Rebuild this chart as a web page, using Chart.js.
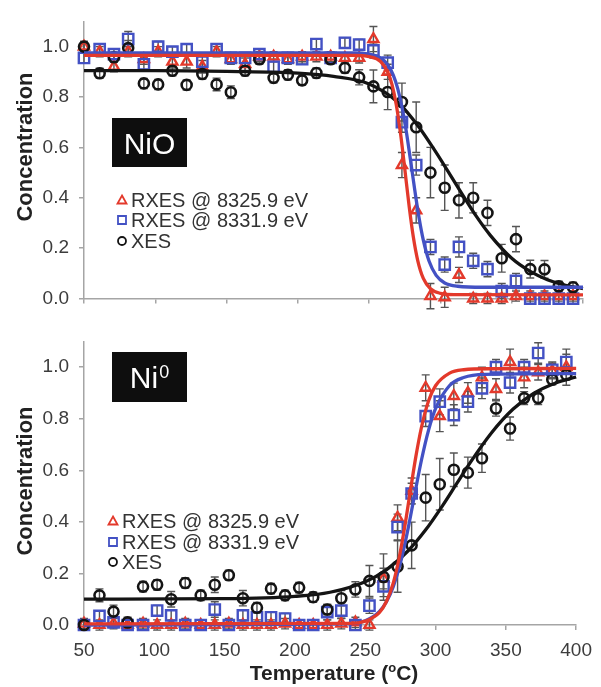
<!DOCTYPE html>
<html>
<head>
<meta charset="utf-8">
<script src="https://cdn.jsdelivr.net/npm/chart.js@4.4.1/dist/chart.umd.min.js"></script>
<style>
  html, body { margin: 0; padding: 0; background: #fff; }
  #wrap { position: relative; width: 601px; height: 687px; }
  canvas { position: absolute; left: 0; }
  #topChart { top: 0; }
  #botChart { top: 320px; }
</style>
</head>
<body>
<div id="wrap">
  <canvas id="topChart" width="601" height="320"></canvas>
  <canvas id="botChart" width="601" height="367"></canvas>
</div>
<script>
const FONT = "'Liberation Sans', Arial, sans-serif";
const RED = '#e3392b';
const BLUE = '#4351c4';
const BLACK = '#141414';
const AXIS = '#a5a5a5';
const ERR = '#555555';

// measurement temperatures (°C)
const temps = [50, 61, 71, 81, 92, 102, 112, 122, 133, 143, 153, 163, 173, 183, 193, 203, 213, 223,
  233, 243, 253, 263, 273, 283, 293, 303, 313, 323, 333, 343, 353, 363, 373, 383, 393];

// NiO panel
const nioRxes1 = [1.00, 0.98, 0.92, 0.98, 0.95, 0.98, 0.94, 0.94, 0.92, 0.98, 0.95, 0.93, 0.96, 0.96, 0.95, 0.96, 0.96, 0.96,
  0.955, 0.955, 1.03, 0.90, 0.53, 0.35, 0.01, 0.005, 0.094, 0.0, 0.0, 0.0, 0.01, 0.01, 0.01, 0.01, 0.01];
const nioRxes1Err = [0.02, 0.02, 0.02, 0.02, 0.02, 0.02, 0.025, 0.025, 0.025, 0.02, 0.02, 0.025, 0.02, 0.02, 0.02, 0.02, 0.02, 0.02,
  0.02, 0.02, 0.05, 0.03, 0.05, 0.05, 0.05, 0.04, 0.03, 0.02, 0.02, 0.02, 0.02, 0.02, 0.02, 0.02, 0.02];
const nioRxes2 = [0.955, 0.99, 0.97, 1.03, 0.93, 1.0, 0.98, 0.99, 0.94, 0.99, 0.955, 0.955, 0.97, 0.92, 0.955, 0.95, 1.01, 0.955,
  1.015, 1.008, 0.985, 0.936, 0.70, 0.53, 0.205, 0.135, 0.205, 0.15, 0.117, 0.03, 0.07, 0.0, 0.0, 0.0, 0.0];
const nioRxes2Err = [0.02, 0.02, 0.02, 0.03, 0.025, 0.02, 0.02, 0.02, 0.025, 0.02, 0.02, 0.02, 0.02, 0.03, 0.02, 0.02, 0.02, 0.02,
  0.02, 0.02, 0.03, 0.03, 0.04, 0.04, 0.03, 0.03, 0.04, 0.03, 0.03, 0.03, 0.03, 0.02, 0.02, 0.02, 0.02];
const nioXes = [1.00, 0.894, 0.958, 0.994, 0.854, 0.85, 0.904, 0.848, 0.891, 0.85, 0.819, 0.904, 0.95, 0.876, 0.888, 0.866, 0.895, 0.95,
  0.915, 0.878, 0.842, 0.82, 0.78, 0.68, 0.50, 0.44, 0.39, 0.40, 0.34, 0.16, 0.236, 0.117, 0.116, 0.049, 0.045];
const nioXesErr = [0.02, 0.02, 0.02, 0.03, 0.02, 0.02, 0.02, 0.02, 0.02, 0.025, 0.025, 0.02, 0.02, 0.02, 0.02, 0.02, 0.02, 0.02,
  0.02, 0.03, 0.065, 0.07, 0.075, 0.1, 0.1, 0.09, 0.07, 0.06, 0.05, 0.055, 0.05, 0.035, 0.035, 0.02, 0.02];

// NiO fitted curves
const nioFit1T = [50, 240, 250, 258, 263, 266, 269, 272, 275, 278, 281, 284, 288, 293, 300, 310, 400];
const nioFit1 = [0.965, 0.965, 0.960, 0.941, 0.899, 0.85, 0.77, 0.656, 0.515, 0.369, 0.244, 0.153, 0.080, 0.039, 0.021, 0.016, 0.015];
const nioFit2T = [50, 240, 250, 258, 263, 267, 270, 273, 276, 279, 282, 285, 288, 292, 297, 303, 312, 330, 400];
const nioFit2 = [0.975, 0.975, 0.970, 0.955, 0.928, 0.886, 0.834, 0.761, 0.665, 0.55, 0.431, 0.321, 0.232, 0.149, 0.092, 0.062, 0.049, 0.045, 0.045];
const nioFitXT = [50, 100, 150, 200, 225, 250, 270, 285, 295, 305, 315, 325, 335, 350, 363, 375, 390, 400];
const nioFitX = [0.905, 0.905, 0.902, 0.895, 0.882, 0.852, 0.78, 0.68, 0.597, 0.508, 0.417, 0.328, 0.251, 0.160, 0.108, 0.075, 0.050, 0.040];

// Ni0 panel
const ni0Rxes1 = [0.005, 0.0, 0.005, 0.0, 0.005, 0.0, 0.0, 0.005, 0.0, 0.0, 0.005, 0.0, 0.0, 0.0, 0.005, 0.0, 0.0, 0.0,
  0.005, 0.01, 0.0, 0.18, 0.416, 0.52, 0.92, 0.81, 0.888, 0.90, 0.96, 0.915, 1.02, 0.96, 0.98, 0.985, 1.0];
const ni0Rxes1Err = [0.02, 0.02, 0.02, 0.02, 0.02, 0.02, 0.02, 0.02, 0.02, 0.02, 0.02, 0.02, 0.02, 0.02, 0.02, 0.02, 0.02, 0.02,
  0.02, 0.02, 0.02, 0.04, 0.05, 0.05, 0.05, 0.06, 0.05, 0.04, 0.04, 0.04, 0.05, 0.04, 0.03, 0.03, 0.07];
const ni0Rxes2 = [0.0, 0.035, 0.01, 0.0, 0.0, 0.056, 0.037, 0.0, 0.0, 0.06, 0.0, 0.037, 0.03, 0.03, 0.025, 0.0, 0.0, 0.05,
  0.056, 0.0, 0.075, 0.15, 0.38, 0.51, 0.81, 0.866, 0.814, 0.866, 0.918, 1.0, 0.94, 1.0, 1.055, 0.99, 1.02];
const ni0Rxes2Err = [0.02, 0.02, 0.02, 0.02, 0.02, 0.02, 0.02, 0.02, 0.02, 0.03, 0.02, 0.02, 0.02, 0.02, 0.02, 0.02, 0.02, 0.03,
  0.03, 0.02, 0.03, 0.04, 0.05, 0.04, 0.04, 0.05, 0.04, 0.04, 0.04, 0.03, 0.04, 0.03, 0.04, 0.03, 0.03];
const ni0Xes = [0.0, 0.115, 0.052, 0.01, 0.149, 0.156, 0.10, 0.163, 0.115, 0.156, 0.193, 0.104, 0.067, 0.141, 0.115, 0.145, 0.108, 0.06,
  0.104, 0.138, 0.171, 0.186, 0.227, 0.309, 0.494, 0.546, 0.602, 0.591, 0.647, 0.84, 0.762, 0.88, 0.88, 0.952, 0.97];
const ni0XesErr = [0.02, 0.025, 0.025, 0.02, 0.02, 0.02, 0.03, 0.02, 0.02, 0.03, 0.02, 0.03, 0.02, 0.02, 0.02, 0.02, 0.02, 0.02,
  0.03, 0.03, 0.06, 0.09, 0.1, 0.09, 0.09, 0.1, 0.065, 0.06, 0.055, 0.03, 0.045, 0.025, 0.025, 0.02, 0.02];

// Ni0 fitted curves
const ni0Fit1T = [50, 240, 250, 260, 265, 270, 274, 278, 282, 286, 290, 295, 300, 310, 320, 340, 400];
const ni0Fit1 = [0.004, 0.006, 0.015, 0.048, 0.09, 0.164, 0.257, 0.378, 0.517, 0.653, 0.767, 0.869, 0.928, 0.977, 0.99, 0.994, 0.995];
const ni0Fit2T = [50, 240, 250, 260, 265, 270, 275, 280, 285, 290, 295, 300, 310, 320, 335, 400];
const ni0Fit2 = [0.0, 0.005, 0.0165, 0.052, 0.089, 0.15, 0.24, 0.361, 0.502, 0.64, 0.755, 0.839, 0.929, 0.960, 0.972, 0.975];
const ni0FitXT = [50, 150, 200, 225, 250, 265, 280, 293, 305, 315, 325, 340, 355, 370, 385, 400];
const ni0FitX = [0.100, 0.102, 0.111, 0.127, 0.168, 0.214, 0.285, 0.369, 0.463, 0.548, 0.633, 0.747, 0.837, 0.899, 0.938, 0.962];

const legendLabels = ['RXES @ 8325.9 eV', 'RXES @ 8331.9 eV', 'XES'];
const xTicks = [50, 100, 150, 200, 250, 300, 350, 400];

const pts = (xs, ys) => xs.map((x, i) => ({ x: x, y: ys[i] }));

function markerSet(label, values, style, color, radius, width) {
  return {
    label: label,
    data: pts(temps, values),
    showLine: false,
    pointStyle: style,
    pointRadius: radius,
    pointHoverRadius: radius,
    pointBorderWidth: width,
    pointBorderColor: color,
    pointBackgroundColor: 'rgba(255,255,255,0)',
    order: 2,
    clip: false
  };
}

function fitSet(xs, ys, color) {
  return {
    data: pts(xs, ys),
    showLine: true,
    borderColor: color,
    borderWidth: 3.3,
    pointRadius: 0,
    cubicInterpolationMode: 'monotone',
    order: 1,
    clip: false
  };
}

function drawSymbol(ctx, style, x, y, color) {
  ctx.save();
  ctx.strokeStyle = color;
  ctx.lineWidth = 1.8;
  ctx.beginPath();
  if (style === 'triangle') {
    ctx.moveTo(x, y - 4.5);
    ctx.lineTo(x + 4.5, y + 3.5);
    ctx.lineTo(x - 4.5, y + 3.5);
    ctx.closePath();
  } else if (style === 'rect') {
    ctx.rect(x - 4, y - 4, 8, 8);
  } else {
    ctx.arc(x, y, 4, 0, Math.PI * 2);
  }
  ctx.stroke();
  ctx.restore();
}

// error bars, name box, legend and titles for one panel
function decor(p) {
  return {
    id: 'decor',
    beforeDatasetsDraw(chart) {
      const ctx = chart.ctx, xs = chart.scales.x, ys = chart.scales.y;
      ctx.save();
      ctx.strokeStyle = ERR;
      ctx.lineWidth = 1.4;
      p.bars.forEach(b => {
        b.values.forEach((v, i) => {
          const px = xs.getPixelForValue(temps[i]);
          const t = ys.getPixelForValue(v + b.errors[i]);
          const u = ys.getPixelForValue(v - b.errors[i]);
          ctx.beginPath();
          ctx.moveTo(px, t); ctx.lineTo(px, u);
          ctx.moveTo(px - 4, t); ctx.lineTo(px + 4, t);
          ctx.moveTo(px - 4, u); ctx.lineTo(px + 4, u);
          ctx.stroke();
        });
      });
      ctx.restore();
    },
    afterDraw(chart) {
      const ctx = chart.ctx;
      ctx.save();
      // name box
      const bx = p.box;
      ctx.fillStyle = '#0e0e0e';
      ctx.fillRect(bx.x, bx.y, bx.w, bx.h);
      ctx.fillStyle = '#fff';
      ctx.textBaseline = 'alphabetic';
      ctx.font = '30px ' + FONT;
      const cy = bx.y + bx.h / 2 + 11;
      if (p.sup) {
        const w1 = ctx.measureText(p.name).width;
        ctx.font = '18px ' + FONT;
        const w2 = ctx.measureText(p.sup).width;
        const sx = bx.x + (bx.w - w1 - w2 - 1) / 2;
        ctx.font = '30px ' + FONT;
        ctx.fillText(p.name, sx, cy);
        ctx.font = '18px ' + FONT;
        ctx.fillText(p.sup, sx + w1 + 1, cy - 10);
      } else {
        ctx.textAlign = 'center';
        ctx.fillText(p.name, bx.x + bx.w / 2, cy);
      }
      // legend
      const styles = [['triangle', RED], ['rect', BLUE], ['circle', BLACK]];
      ctx.textAlign = 'left';
      ctx.textBaseline = 'middle';
      ctx.font = '20px ' + FONT;
      ctx.fillStyle = '#333';
      legendLabels.forEach((txt, i) => {
        const ly = p.legend.y[i];
        drawSymbol(ctx, styles[i][0], p.legend.x, ly, styles[i][1]);
        ctx.fillText(txt, p.legend.x + 9, ly + 1);
      });
      // y title
      ctx.save();
      ctx.translate(26, p.yTitleY);
      ctx.rotate(-Math.PI / 2);
      ctx.textAlign = 'center';
      ctx.font = 'bold 22px ' + FONT;
      ctx.fillStyle = '#222';
      ctx.fillText('Concentration', 0, 0);
      ctx.restore();
      // x title
      if (p.xTitleY) {
        ctx.fillStyle = '#222';
        ctx.textBaseline = 'alphabetic';
        ctx.font = 'bold 21px ' + FONT;
        const a = 'Temperature (', c = 'C)';
        const wa = ctx.measureText(a).width, wc = ctx.measureText(c).width;
        ctx.font = 'bold 13px ' + FONT;
        const wo = ctx.measureText('o').width;
        let sx = 334 - (wa + wo + wc) / 2;
        const by = p.xTitleY + 8;
        ctx.font = 'bold 21px ' + FONT;
        ctx.fillText(a, sx, by);
        ctx.font = 'bold 13px ' + FONT;
        ctx.fillText('o', sx + wa, by - 8);
        ctx.font = 'bold 21px ' + FONT;
        ctx.fillText(c, sx + wa + wo, by);
      }
      ctx.restore();
    }
  };
}

function makePanel(id, p) {
  return new Chart(document.getElementById(id), {
    type: 'scatter',
    data: {
      datasets: [
        fitSet(p.fits[0][0], p.fits[0][1], RED),
        fitSet(p.fits[1][0], p.fits[1][1], BLUE),
        fitSet(p.fits[2][0], p.fits[2][1], BLACK),
        markerSet(legendLabels[2], p.bars[2].values, 'circle', BLACK, 5, 2.6),
        markerSet(legendLabels[1], p.bars[1].values, 'rect', BLUE, 7.3, 2.4),
        markerSet(legendLabels[0], p.bars[0].values, 'triangle', RED, 5.8, 2.4)
      ]
    },
    options: {
      responsive: false,
      animation: false,
      events: [],
      layout: { padding: { top: p.padTop, right: 18, bottom: 0, left: 0 } },
      plugins: { legend: { display: false }, tooltip: { enabled: false } },
      scales: {
        x: {
          type: 'linear', min: 50, max: 400,
          afterBuildTicks: s => { s.ticks = xTicks.map(v => ({ value: v })); },
          afterFit: s => { s.height = p.xHeight; },
          border: { color: AXIS, width: 1.5 },
          grid: { drawOnChartArea: false, tickLength: 5, color: AXIS, lineWidth: 1.5 },
          ticks: {
            padding: 9, color: '#3c3c3c', font: { family: FONT, size: 19 },
            callback: v => p.xLabels ? String(v) : ''
          }
        },
        y: {
          min: 0, max: 1.1,
          afterBuildTicks: s => { s.ticks = [0, 0.2, 0.4, 0.6, 0.8, 1.0].map(v => ({ value: v })); },
          afterFit: s => { s.width = 84; },
          border: { color: AXIS, width: 1.5 },
          grid: { drawOnChartArea: false, tickLength: 5, color: AXIS, lineWidth: 1.5 },
          ticks: {
            padding: 10, color: '#3c3c3c', font: { family: FONT, size: 19 },
            callback: v => Number(v).toFixed(1)
          }
        }
      }
    },
    plugins: [decor(p)]
  });
}

makePanel('topChart', {
  padTop: 14, xHeight: 12, xLabels: false,
  bars: [
    { values: nioRxes1, errors: nioRxes1Err },
    { values: nioRxes2, errors: nioRxes2Err },
    { values: nioXes, errors: nioXesErr }
  ],
  fits: [[nioFit1T, nioFit1], [nioFit2T, nioFit2], [nioFitXT, nioFitX]],
  box: { x: 112, y: 118, w: 75, h: 49 }, name: 'NiO',
  legend: { x: 122, y: [200, 220, 241] },
  yTitleY: 147
});

makePanel('botChart', {
  padTop: 9, xHeight: 62, xLabels: true,
  bars: [
    { values: ni0Rxes1, errors: ni0Rxes1Err },
    { values: ni0Rxes2, errors: ni0Rxes2Err },
    { values: ni0Xes, errors: ni0XesErr }
  ],
  fits: [[ni0Fit1T, ni0Fit1], [ni0Fit2T, ni0Fit2], [ni0FitXT, ni0FitX]],
  box: { x: 112, y: 32, w: 75, h: 50 }, name: 'Ni', sup: '0',
  legend: { x: 113, y: [201, 222, 242] },
  yTitleY: 161, xTitleY: 352
});
</script>
</body>
</html>
